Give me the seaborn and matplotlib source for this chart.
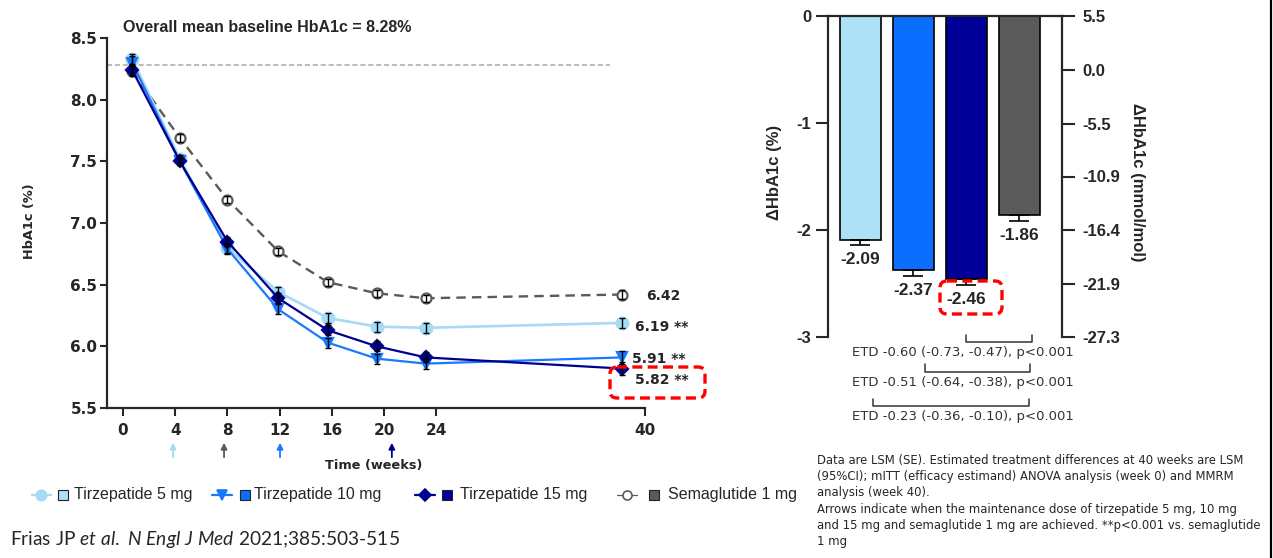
import numpy as np
import pandas as pd
import matplotlib
matplotlib.use("Agg")
import matplotlib.pyplot as plt
from matplotlib.lines import Line2D
from matplotlib.patches import FancyBboxPatch
from matplotlib.transforms import Affine2D
import seaborn as sns

# ---------------- data ----------------
groups = ["Tirzepatide 5 mg", "Tirzepatide 10 mg", "Tirzepatide 15 mg", "Semaglutide 1 mg"]

visit_x = [0.7, 4.35, 8.0, 11.9, 15.7, 19.45, 23.2, 38.2]
hba1c_tzp5 = [8.33, 7.52, 6.80, 6.44, 6.23, 6.16, 6.15, 6.19]
hba1c_tzp10 = [8.30, 7.50, 6.79, 6.30, 6.03, 5.90, 5.86, 5.91]
hba1c_tzp15 = [8.24, 7.50, 6.85, 6.39, 6.13, 6.00, 5.91, 5.82]
hba1c_sema = [8.23, 7.69, 7.19, 6.77, 6.52, 6.43, 6.39, 6.42]

se_tzp5 = [0.04, 0.03, 0.04, 0.04, 0.04, 0.04, 0.04, 0.04]
se_tzp10 = [0.05, 0.03, 0.04, 0.04, 0.04, 0.04, 0.04, 0.05]
se_tzp15 = [0.04, 0.03, 0.04, 0.04, 0.04, 0.04, 0.04, 0.05]
se_sema = [0.04, 0.03, 0.03, 0.03, 0.03, 0.03, 0.03, 0.04]

end_labels = ["6.19 **", "5.91 **", "5.82 **", "6.42"]
baseline_hba1c = 8.28
maintenance_week = [3.83, 12.03, 20.6, 7.74]

x_ticks = [0, 4, 8, 12, 16, 20, 24, 40]
y_ticks = [5.5, 6.0, 6.5, 7.0, 7.5, 8.0, 8.5]

bar_change = [-2.09, -2.37, -2.46, -1.86]
bar_se = [0.05, 0.06, 0.05, 0.06]
pct_ticks = [0, -1, -2, -3]
mmol_ticks = [5.5, 0.0, -5.5, -10.9, -16.4, -21.9, -27.3]

etd_labels = ["ETD -0.60 (-0.73, -0.47), p<0.001",
              "ETD -0.51 (-0.64, -0.38), p<0.001",
              "ETD -0.23 (-0.36, -0.10), p<0.001"]

footnote = ("Data are LSM (SE). Estimated treatment differences at 40 weeks are LSM\n"
            "(95%CI); mITT (efficacy estimand) ANOVA analysis (week 0) and MMRM\n"
            "analysis (week 40).\n"
            "Arrows indicate when the maintenance dose of tirzepatide 5 mg, 10 mg\n"
            "and 15 mg and semaglutide 1 mg are achieved. **p<0.001 vs. semaglutide\n"
            "1 mg")

# ---------------- style ----------------
line_colors = ["#a6daf5", "#1a78ff", "#00008f", "#5a5a5a"]
bar_colors = ["#aee0f8", "#0a6eff", "#000099", "#5a5a5a"]

sns.set_style("ticks")
plt.rcParams["font.family"] = ["Liberation Sans", "DejaVu Sans"]
plt.rcParams["mathtext.fontset"] = "custom"
plt.rcParams["mathtext.rm"] = "Lato"
plt.rcParams["mathtext.it"] = "Lato:italic"

W, H = 1273, 558
fig = plt.figure(figsize=(W / 100, H / 100), dpi=100)
px = Affine2D().scale(1 / 100, -1 / 100).translate(0, H / 100) + fig.dpi_scale_trans

# ---------------- left panel: HbA1c over time ----------------
ax = fig.add_axes([107 / W, 1 - 408 / H, 538 / W, 370 / H])
series = [
    (hba1c_tzp5, se_tzp5, dict(marker="o", ms=8.5, mfc=line_colors[0], mec=line_colors[0], lw=1.9, ls="-")),
    (hba1c_tzp10, se_tzp10, dict(marker="v", ms=7.5, mfc=line_colors[1], mec=line_colors[1], lw=1.6, ls="-")),
    (hba1c_tzp15, se_tzp15, dict(marker="D", ms=6.3, mfc=line_colors[2], mec=line_colors[2], lw=1.6, ls="-")),
    (hba1c_sema, se_sema, dict(marker="o", ms=7.2, mfc="white", mec=line_colors[3], lw=1.7, ls=(0, (4, 2.6)))),
]
order = [3, 0, 1, 2]
for i in order:
    vals, se, st = series[i]
    df = pd.DataFrame({"week": visit_x, "hba1c": vals})
    sns.lineplot(data=df, x="week", y="hba1c", ax=ax, color=line_colors[i],
                 linewidth=st["lw"], linestyle=st["ls"], marker=st["marker"],
                 markersize=st["ms"], markerfacecolor=st["mfc"],
                 markeredgecolor=st["mec"], markeredgewidth=1.6,
                 errorbar=None, legend=False, zorder=3 + order.index(i))
    ax.errorbar(visit_x, vals, yerr=se, fmt="none", ecolor="black",
                elinewidth=1.0, capsize=2.3, capthick=1.0, zorder=8)

ax.axhline(baseline_hba1c, xmin=0, xmax=(37.3 + 1.23) / 41.23, color="#bdbdbd",
           lw=1.5, ls=(0, (2.4, 1.4)), zorder=1)

ax.set_xlim(-1.23, 40)
ax.set_ylim(5.5, 8.5)
ax.set_xticks(x_ticks)
ax.set_yticks(y_ticks)
ax.set_yticklabels([f"{v:.1f}" for v in y_ticks])
ax.set_xlabel("")
ax.set_ylabel("")
for s in ["top", "right"]:
    ax.spines[s].set_visible(False)
for s in ["left", "bottom"]:
    ax.spines[s].set_linewidth(1.6)
ax.tick_params(axis="y", length=5, width=1.5, pad=2)
ax.tick_params(axis="x", length=6, width=1.5, pad=5)
for lab in ax.get_xticklabels() + ax.get_yticklabels():
    lab.set_fontfamily("DejaVu Sans")
    lab.set_fontweight("bold")
    lab.set_fontsize(11)

# value labels at week 40
label_x = [39.2, 39.0, 39.2, 40.08]
label_dy = [-0.03, -0.01, -0.09, -0.01]
finals = [hba1c_tzp5[-1], hba1c_tzp10[-1], hba1c_tzp15[-1], hba1c_sema[-1]]
for i in range(4):
    ax.text(label_x[i], finals[i] + label_dy[i], end_labels[i], fontfamily="DejaVu Sans",
            fontweight="bold", fontsize=10, ha="left", va="center", clip_on=False)

# maintenance-dose arrows under the time axis
for wk, c in zip(maintenance_week, line_colors):
    ax.annotate("", xy=(wk, -0.094), xytext=(wk, -0.133),
                xycoords=("data", "axes fraction"), textcoords=("data", "axes fraction"),
                arrowprops=dict(arrowstyle="-|>", color=c, lw=1.3, mutation_scale=9,
                                shrinkA=0, shrinkB=0))

fig.text(123, 27, "Overall mean baseline HbA1c = 8.28%", transform=px,
         fontweight="bold", fontsize=11.5, ha="left", va="center")
fig.text(30, 221, "HbA1c (%)", transform=px, rotation=90, fontfamily="DejaVu Sans",
         fontweight="bold", fontsize=9.3, ha="center", va="center")
fig.text(374, 466, "Time (weeks)", transform=px, fontfamily="DejaVu Sans",
         fontweight="bold", fontsize=9.3, ha="center", va="center")

fig.add_artist(FancyBboxPatch((610, 367), 95, 31, boxstyle="round,pad=0,rounding_size=7",
                              transform=px, fill=False, ec="#ff0000", lw=2.4,
                              ls=(0, (3, 1.6)), zorder=10))

# legend
leg_y = 495
leg_items = [
    (32, 51, 41, "o", 7.5, line_colors[0], line_colors[0], 63, 74),
    (212, 232, 222, "v", 7.5, line_colors[1], line_colors[1], 245, 254),
    (415, 435, 425, "D", 5.8, line_colors[2], line_colors[2], 447, 460),
    (617, 637, 627, "o", 6.5, "white", line_colors[3], 654, 668),
]
for i, (x0, x1, xm, mk, ms, fc, ec, xs, xt) in enumerate(leg_items):
    fig.add_artist(Line2D([x0, x1], [leg_y, leg_y], transform=px, color=line_colors[i],
                          lw=1.6 if i < 3 else 0.9))
    fig.add_artist(Line2D([xm], [leg_y], transform=px, marker=mk, ms=ms, mfc=fc, mec=ec,
                          mew=1.2, ls="none"))
    fig.add_artist(Line2D([xs], [leg_y], transform=px, marker="s", ms=6.5,
                          mfc=bar_colors[i], mec="#222222", mew=0.8, ls="none"))
    fig.text(xt, leg_y, groups[i], transform=px, fontsize=11.5, ha="left", va="center")

fig.text(10, 540, r"Frias JP $\it{et\ al.\ N\ Engl\ J\ Med}$ 2021;385:503-515",
         transform=px, fontfamily="Lato", fontsize=13.8, ha="left", va="center")

# ---------------- right panel: change from baseline ----------------
axb = fig.add_axes([828 / W, 1 - 337 / H, 234 / W, 321 / H])
sns.barplot(x=groups, y=bar_change, hue=groups, order=groups, hue_order=groups,
            palette=bar_colors, saturation=1, width=0.774, edgecolor="black",
            linewidth=1.2, legend=False, ax=axb, zorder=2)
axb.errorbar(range(4), bar_change, yerr=[bar_se, [0] * 4], fmt="none", ecolor="black",
             elinewidth=1.2, capsize=7, capthick=1.2, zorder=3)
axb.set_xlim(-0.604, 3.81)
axb.set_ylim(-3, 0)
axb.set_xticks([])
axb.set_yticks(pct_ticks)
axb.set_yticklabels([f"{v:d}" for v in pct_ticks])
axb.set_xlabel("")
axb.set_ylabel("")
axb.spines["bottom"].set_visible(False)
axb.spines["right"].set_visible(False)
axb.spines["top"].set_linewidth(1.6)
axb.spines["left"].set_linewidth(1.6)
axb.tick_params(axis="y", length=9, width=1.5, pad=3, labelsize=12)
for lab in axb.get_yticklabels():
    lab.set_fontweight("bold")

axr = axb.twinx()
axr.set_ylim(-27.3, 5.5)
axr.set_yticks(mmol_ticks)
axr.set_yticklabels([f"{v:.1f}" for v in mmol_ticks])
for s in ["top", "left", "bottom"]:
    axr.spines[s].set_visible(False)
axr.spines["right"].set_linewidth(1.6)
axr.tick_params(axis="y", length=9, width=1.5, pad=6, labelsize=12)
for lab in axr.get_yticklabels():
    lab.set_fontweight("bold")

for i, (v, e) in enumerate(zip(bar_change, bar_se)):
    axb.text(i, v - e - 0.135, f"{v:.2f}", ha="center", va="center",
             fontweight="bold", fontsize=12.5, clip_on=False, zorder=5)

fig.add_artist(FancyBboxPatch((940, 281), 62, 33, boxstyle="round,pad=0,rounding_size=7",
                              transform=px, fill=False, ec="#ff0000", lw=2.4,
                              ls=(0, (3, 1.6)), zorder=10))

# ETD brackets between each tirzepatide dose and semaglutide
etd_spans = [(2.0, 3.25), (1.23, 3.21), (0.25, 3.19)]
bracket_y = [-3.047, -3.327, -3.645]
for (x0, x1), yb, lab in zip(etd_spans, bracket_y, etd_labels):
    axb.plot([x0, x0, x1, x1], [yb + 0.07, yb, yb, yb + 0.07], color="#333333",
             lw=1.1, clip_on=False)
    axb.text(1.94, yb - 0.1, lab, ha="center", va="center", fontfamily="DejaVu Sans",
             fontsize=9.5, color="#333333", clip_on=False)

fig.text(775, 172, "ΔHbA1c (%)", transform=px, rotation=90, fontweight="bold",
         fontsize=12, ha="center", va="center")
fig.text(1138, 182, "ΔHbA1c (mmol/mol)", transform=px, rotation=-90, fontweight="bold",
         fontsize=12, ha="center", va="center")

fig.text(817, 454, footnote, transform=px, fontfamily="DejaVu Sans", fontsize=8.4,
         ha="left", va="top", linespacing=1.32)

fig.add_artist(Line2D([1271, 1271], [0, H], transform=px, color="black", lw=1.6))

fig.savefig("out.png", dpi=100)
